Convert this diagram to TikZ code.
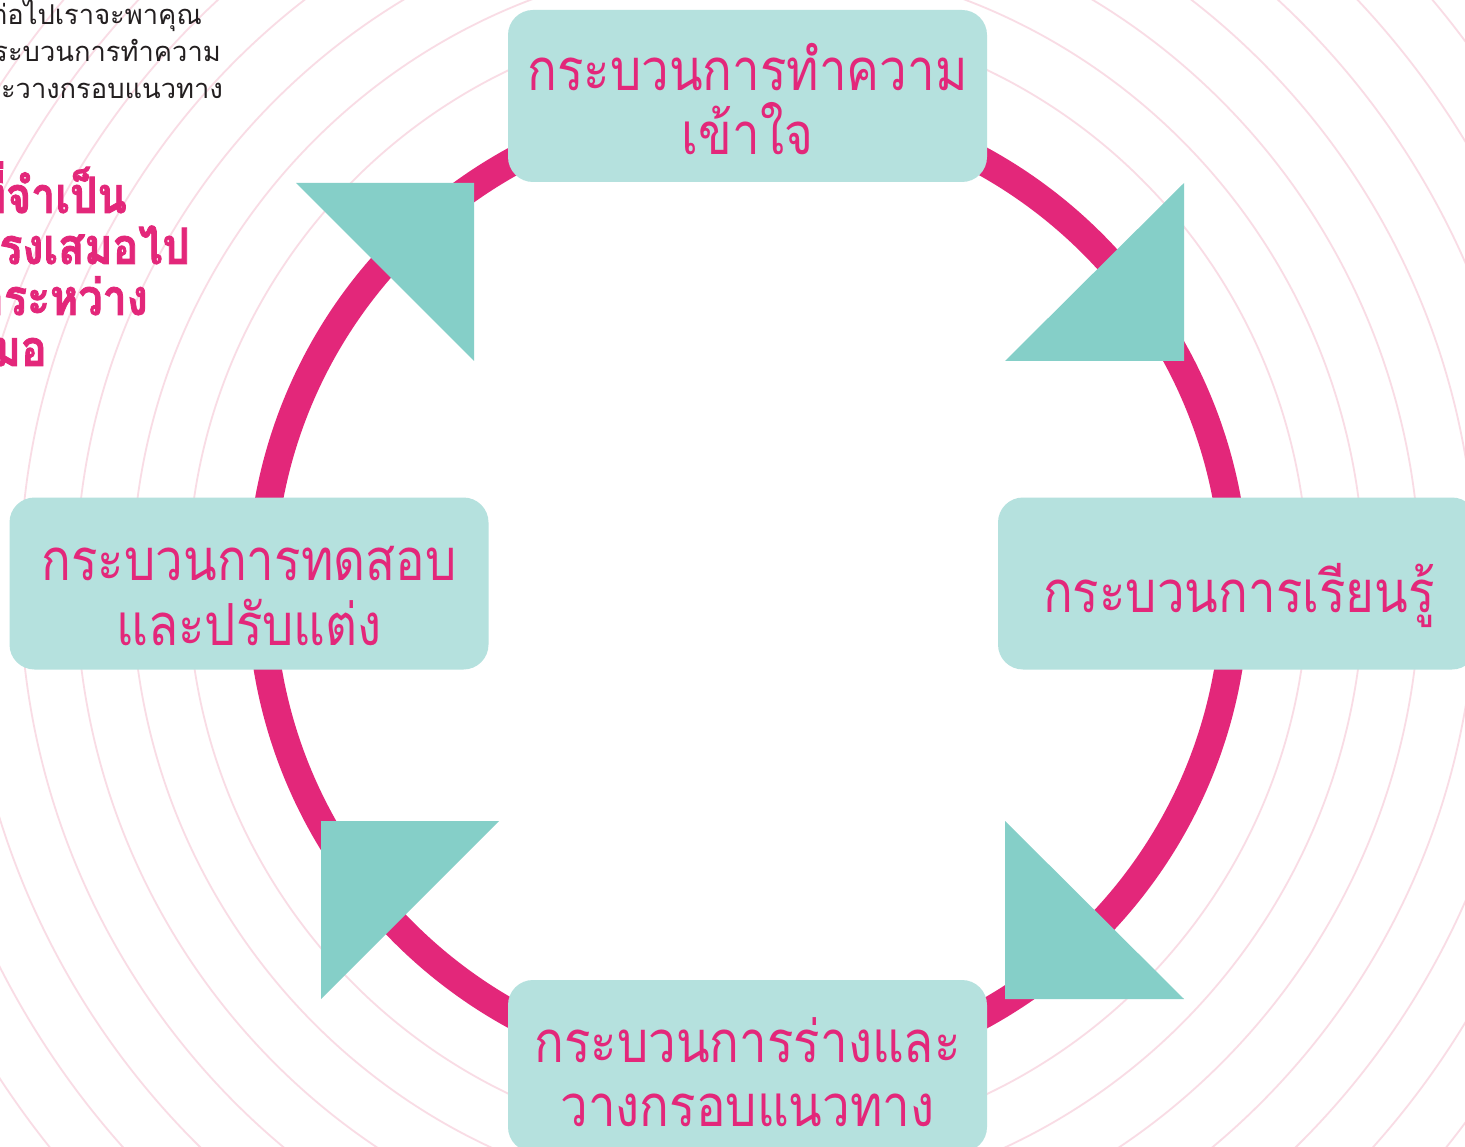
\documentclass[tikz,border=0pt]{standalone}
\usepackage{fontspec}
\newfontfamily\thaifont[Script=Thai]{Loma}
\newfontfamily\thaibox[Script=Thai, FakeStretch=0.85]{Loma}
\newfontfamily\thaiheavy[Script=Thai, FakeStretch=0.86, FakeBold=1.6]{Loma}
\definecolor{ringpink}{HTML}{E3277A}
\definecolor{faintpink}{HTML}{F9DCE5}
\definecolor{boxteal}{HTML}{B5E1DE}
\definecolor{arrowteal}{HTML}{85CFC8}
\definecolor{inkblack}{HTML}{231F20}
\tikzset{
  faint/.style={draw=faintpink, line width=1.8pt},
  ringline/.style={draw=ringpink, line width=28pt},
  procbox/.style={fill=boxteal, rounded corners=25pt, inner sep=0pt, minimum width=479pt, minimum height=172pt},
  boxtext/.style={text=ringpink, inner sep=0pt, anchor=base, font=\thaibox\fontsize{58}{64}\selectfont},
  arrowtri/.style={fill=arrowteal},
  introtext/.style={text=inkblack, inner sep=0pt, anchor=base east, font=\thaifont\fontsize{27.3}{37}\selectfont},
  pinktext/.style={text=ringpink, inner sep=0pt, anchor=base east, font=\thaiheavy\bfseries\fontsize{50}{51}\selectfont}
}
\begin{document}
\begin{tikzpicture}[x=1pt,y=-1pt]
\useasboundingbox (0,0) rectangle (1465,1147);
\fill[white] (0,0) rectangle (1465,1147);
\begin{scope}
\clip (0,0) rectangle (1465,1147);
\foreach \r in {560,616,...,1016} {
  \draw[faint] (748,582) ellipse [x radius=\r pt, y radius=\r pt+6pt];
}
\end{scope}
% intro texts
\node[introtext] (intro1) at (202,25) {ต่อไปเราจะพาคุณ};
\node[introtext] (intro2) at (221,62) {กระบวนการทำความ};
\node[introtext] (intro3) at (223,99) {และวางกรอบแนวทาง};
\node[pinktext] (note1) at (127,213) {ที่จำเป็น};
\node[pinktext] (note2) at (190,264) {ตรงเสมอไป};
\node[pinktext] (note3) at (148,315) {มาระหว่าง};
\node[pinktext] (note4) at (47,366) {เสมอ};
% ring
\draw[ringline] (748,588) circle [radius=487pt];
% arrow triangles
\fill[arrowtri] (296,183) -- (474,183) -- (474,361) -- cycle;
\fill[arrowtri] (1005,361) -- (1184,361) -- (1184,183) -- cycle;
\fill[arrowtri] (1005,821) -- (1005,999) -- (1184,999) -- cycle;
\fill[arrowtri] (321,821) -- (499,821) -- (321,999) -- cycle;
% boxes
\node[procbox] (understand) at (747.5,96) {};
\node[procbox] (learn) at (1237.5,583.5) {};
\node[procbox] (test) at (249,583.5) {};
\node[procbox] (draft) at (747.5,1066) {};
% box texts
\node[boxtext] (understand1) at (747.5,91) {กระบวนการทำความ};
\node[boxtext] (understand2) at (747.5,155) {เข้าใจ};
\node[boxtext] (learn1) at (1239,612) {กระบวนการเรียนรู้};
\node[boxtext] (test1) at (249,580) {กระบวนการทดสอบ};
\node[boxtext] (test2) at (249,645) {และปรับแต่ง};
\node[boxtext] (draft1) at (747.5,1062) {กระบวนการร่างและ};
\node[boxtext] (draft2) at (747.5,1126) {วางกรอบแนวทาง};
\end{tikzpicture}
\end{document}
